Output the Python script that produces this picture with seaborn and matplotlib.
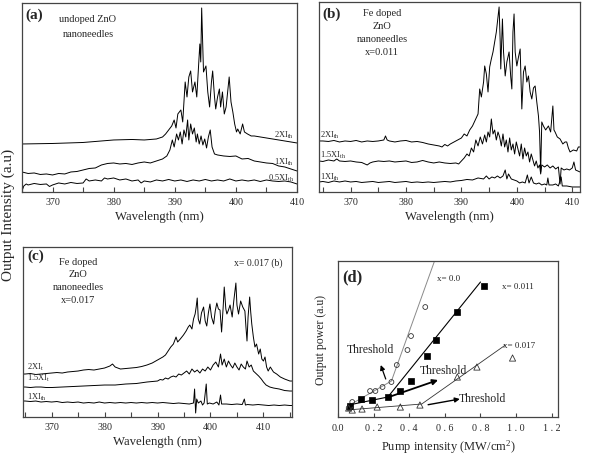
import numpy as np
import pandas as pd
import matplotlib
matplotlib.use("Agg")
import matplotlib.pyplot as plt
from matplotlib.ticker import MultipleLocator
import seaborn as sns

# ---------------- panel (a): undoped ZnO ----------------
a_2x_wl = [365, 370, 375, 380, 383, 385, 387, 388, 388.5, 389, 389.5, 389.9, 390.2, 390.5, 391, 391.3,
           391.7, 392, 392.3, 392.6, 392.9, 393.3, 393.6, 394.1, 394.25, 394.4, 394.7, 395.1, 395.4,
           395.7, 396.0, 396.2, 396.5, 396.7, 397.0, 397.3, 397.5, 397.8, 398.1, 398.4, 398.9, 399.2,
           399.5, 399.8, 400.1, 400.3, 400.7, 401.1, 401.4, 401.9, 402.5, 403, 404, 405, 406, 407, 408,
           409, 410]
a_2x_int = [48, 48.5, 49.5, 52, 52.5, 52, 53, 55, 58, 62, 66, 72, 64, 78, 82, 70,
            110, 95, 115, 121, 100, 110, 95, 148, 130, 184, 120, 126, 100,
            85, 110, 121, 95, 83, 95, 103, 85, 100, 78, 85, 115, 90,
            80, 68, 60, 63, 58, 68, 60, 58, 56, 56, 55, 54, 53, 52, 51,
            50, 49]

a_1x_wl = [365, 366, 367, 368, 369, 370, 371, 372, 373, 374, 375, 376, 377, 378, 379, 380, 381, 382,
           383, 384, 385, 386, 387, 388, 388.7, 389.2, 389.6, 389.9, 390.3, 390.6, 390.9, 391.2,
           391.5, 391.8, 392.1, 392.3, 392.6, 392.9, 393.2, 393.5, 393.7, 394.0, 394.3, 394.6, 394.9,
           395.2, 395.5, 395.8, 396.1, 396.5, 397, 398, 399, 400, 401, 402, 403, 404, 405, 406, 407,
           408, 409, 410]
a_1x_int = [20, 18.5, 19, 17.5, 18, 17, 18.5, 18, 20, 20.5, 22, 23.5, 24, 27, 28.5, 29, 28, 28.5,
            27.5, 29, 30, 29, 31, 33, 36, 42, 52, 45, 58, 52, 60, 48,
            62, 55, 72, 52, 68, 58, 64, 50, 58, 48, 56, 47, 53,
            44, 55, 62, 45, 38, 37, 36, 35.5, 36, 33, 33.5, 31, 30, 29, 28.5, 26,
            25, 23, 21]

a_05x_wl = [365, 365.3, 365.7, 366, 367, 368, 369, 369.5, 370, 371, 372, 373, 374, 375, 375.5, 376,
            377, 378, 378.5, 379, 380, 381, 382, 383, 384, 384.5, 385, 386, 387, 388, 389, 390, 391,
            392, 393, 394, 395, 396, 397, 398, 399, 400, 401, 402, 403, 404, 405, 406, 407, 408, 409,
            410]
a_05x_int = [1, 6, 8, 7, 8.5, 7.5, 8, 5.5, 7, 9, 8, 9.5, 8.5, 9, 13, 11,
             12, 11, 14, 13, 14, 12, 13, 11, 12, 9, 11, 10, 12, 11, 12.5, 11, 12,
             10.5, 12, 11, 12.5, 11, 12, 11, 13, 11, 12, 11, 12, 10.5, 12, 11, 10.5, 11, 10,
             8]

# ---------------- panel (b): Fe doped x=0.011 ----------------
b_2x_wl = [364.3, 365, 366, 367, 368, 369, 370, 371, 372, 373, 374, 375, 376, 376.3, 376.6, 377, 378,
           379, 380, 381, 382, 383, 384, 385, 386, 386.5, 387, 387.5, 388, 389, 390, 390.5, 391, 391.5,
           392, 392.5, 393, 393.3, 393.6, 394, 394.2, 394.5, 394.8, 395.1, 395.4, 395.7, 396.0, 396.3,
           396.6, 396.8, 397.0, 397.1, 397.4, 397.6, 397.9, 398.2, 398.6, 398.9, 399.1, 399.3, 399.5,
           399.7, 400.0, 400.3, 400.6, 400.9, 401.2, 401.5, 401.8, 402.1, 402.4, 402.7, 403.0, 403.3,
           403.6, 403.9, 404.1, 404.3, 404.5, 404.8, 405.2, 405.7, 406.1, 406.5, 406.7, 406.9, 407.3,
           407.8, 408.3, 408.7, 409.0, 409.3, 409.6, 410.2, 410.8, 411.1, 411.4]
b_2x_int = [51, 51, 50.5, 51.5, 50, 51, 50.5, 51.5, 50, 51, 50.5, 51, 52, 56, 52, 51, 50,
            51, 51.5, 50, 50.5, 49.5, 48, 47, 46, 45, 47.5, 46, 48, 51, 54, 58, 56, 62,
            66, 72, 78, 103, 95, 110, 126, 118, 100, 125, 133, 140, 150, 160,
            175, 185, 150, 123, 173, 140, 116, 130, 140, 115, 103, 160, 178,
            140, 126, 135, 143, 83, 120, 126, 110, 116, 100, 93, 104, 106,
            90, 76, 60, 20, 70, 66, 62, 66, 60, 86, 62, 60, 55,
            53, 48, 50, 50, 44, 40, 42, 41, 45, 45]

b_15x_wl = [364.3, 365, 366, 367, 367.5, 368, 369, 370, 371, 372, 373, 373.5, 374, 375, 376, 377, 378,
            379, 380, 381, 382, 383, 384, 385, 386, 387, 388, 389, 389.5, 390, 390.5, 391, 391.4, 391.8,
            392.2, 392.6, 393, 393.4, 393.8, 394.2, 394.5, 394.8, 395.1, 395.4, 395.7, 396, 396.3,
            396.6, 396.9, 397.2, 397.5, 397.8, 398.1, 398.4, 398.7, 399, 399.3, 399.6, 399.9, 400.2,
            400.5, 400.8, 401.1, 401.4, 401.7, 402, 402.3, 402.6, 402.9, 403.2, 403.5, 403.8, 404.1,
            404.3, 404.5, 405, 405.5, 406, 406.5, 407, 407.5, 407.8, 408.0, 408.5, 409, 409.5, 410,
            410.3, 410.6, 411, 411.4]
b_15x_int = [31, 30.5, 32, 31, 33, 31, 30.5, 31, 30, 29.5, 27, 29, 30, 31, 30.5, 31, 30,
             30.5, 31, 29.5, 30, 31.5, 30, 29, 30, 29, 28.5, 29, 28, 31, 34, 38, 36, 44,
             40, 52, 46, 55, 48, 57, 50, 60, 55, 73, 58, 62, 52,
             60, 55, 46, 58, 45, 52, 40, 54, 42, 48, 38, 50, 43,
             36, 48, 33, 44, 36, 40, 30, 38, 32, 26, 31, 24, 27,
             18, 27, 25, 27, 24, 26, 23, 25, 8, 24, 22, 23, 22, 24,
             30, 22, 21, 20]

b_1x_wl = [364.3, 365, 366, 367, 368, 369, 370, 371, 372, 373, 374, 375, 376, 377, 378, 379, 380, 381,
           382, 383, 384, 385, 386, 387, 388, 389, 390, 391, 392, 393, 394, 394.5, 395, 395.5, 396,
           396.5, 397, 397.5, 397.9, 398.2, 398.5, 399, 399.5, 400, 400.5, 401, 401.5, 401.9, 402.2,
           402.6, 403, 403.5, 404, 404.5, 405, 405.4, 405.6, 405.8, 406.5, 407, 407.5, 408, 408.2,
           409, 410, 411, 411.4]
b_1x_int = [10, 10.5, 9.5, 11, 10, 11, 10, 10.5, 9.5, 10, 10.5, 9.5, 10, 10.5, 9.5, 10, 10.5, 9.5,
            10, 9.5, 10, 9.5, 10, 10.5, 10, 11, 11.5, 12.5, 12, 14, 13, 16, 13, 15, 14,
            16, 14, 16, 22, 13, 18, 13, 12, 11, 9, 10, 9, 17, 9,
            15, 9, 8, 9, 7, 8, 7, 14, 7, 7, 8, 6, 15, 6,
            6, 5, 5, 5]

# ---------------- panel (c): Fe doped x=0.017 ----------------
c_2x_wl = [364.6, 365, 366, 367, 368, 369, 370, 371, 372, 373, 374, 375, 376, 377, 378, 379, 380, 381,
           381.5, 382, 383, 384, 385, 386, 387, 388, 389, 390, 391, 391.5, 392, 392.5, 393, 393.5,
           393.8, 394.3, 394.9, 395.4, 395.8, 396.1, 396.5, 396.8, 397.1, 397.3, 397.5, 397.7, 398.0,
           398.3, 398.7, 399.0, 399.3, 399.6, 399.9, 400.2, 400.6, 400.9, 401.2, 401.5, 401.8, 402.1,
           402.4, 402.6, 402.9, 403.1, 403.4, 403.7, 404.1, 404.4, 404.8, 405.0, 405.3, 405.7, 406.1,
           406.5, 406.7, 406.9, 407.1, 407.4, 407.6, 407.8, 408.1, 408.4, 408.7, 409.1, 409.4, 409.7,
           410.0, 410.3, 410.6, 410.9, 411.3, 411.9, 412.5, 413.2, 414, 415, 415.4]
c_2x_int = [43, 43, 43.5, 42.5, 43, 43.5, 44, 44.5, 44, 45, 45.5, 46, 47, 47.5, 47, 48, 49, 51,
            53, 50, 48, 48.5, 49, 49.5, 50.5, 52, 54, 57, 60, 62, 66, 70, 73, 80,
            75, 78, 82, 86, 90, 92, 88, 98, 103, 110, 119, 98, 93,
            104, 110, 96, 91, 104, 113, 100, 93, 106, 114, 108, 107, 85,
            110, 130, 108, 103, 107, 112, 100, 116, 134, 112, 103, 116, 110,
            106, 90, 76, 100, 120, 105, 93, 80, 70, 73, 63, 68, 58,
            56, 60, 50, 46, 50, 45, 43, 40, 38, 36, 36]

c_15x_wl = [364.6, 365, 366, 367, 368, 369, 370, 372, 374, 376, 378, 380, 382, 384, 386, 388, 389,
            390, 390.5, 391, 391.5, 392, 392.5, 393, 393.5, 394, 394.5, 395, 395.5, 396, 396.5, 397,
            397.5, 398, 398.5, 399, 399.5, 400, 400.5, 401, 401.5, 401.9, 402.2, 402.6, 403, 403.4,
            403.8, 404.2, 404.6, 405, 405.4, 405.8, 406.2, 406.6, 406.9, 407.3, 407.7, 408.1, 408.5,
            409.1, 409.6, 410, 410.5, 411.2, 411.9, 413, 414, 415, 415.4]
c_15x_int = [30, 30, 29.5, 30, 30, 29.5, 29.5, 30, 30.5, 31, 31.5, 32, 32, 33, 33.5, 35, 35.5,
             36, 37.5, 37, 39, 38, 40, 41, 40, 43, 42, 44, 46, 43, 48, 45,
             47, 44, 48, 46, 50, 47, 52, 55, 50, 63, 52, 58, 50, 56,
             52, 49, 54, 50, 47, 53, 50, 48, 56, 50, 52, 46, 44,
             41, 38, 35, 32, 30, 29, 28, 26.5, 26, 26]

c_1x_wl = [364.6, 365, 366, 367, 368, 369, 370, 371, 372, 373, 374, 375, 376, 377, 378, 379, 380, 381,
           382, 383, 384, 385, 386, 387, 388, 389, 390, 391, 392, 393, 394, 395, 396, 396.8, 397.0,
           397.2, 397.4, 397.7, 398.2, 398.5, 398.8, 399.2, 399.4, 399.8, 400.5, 401.2, 401.6, 401.9,
           402.1, 403, 404, 405, 406, 406.4, 406.6, 407, 408, 409, 410, 411, 412, 413, 414, 415, 415.4]
c_1x_int = [16, 16, 15.5, 16, 15, 15.5, 15, 15.5, 14.5, 15, 14.5, 15, 14, 14.5, 14, 15, 14, 14.5,
            14, 14.5, 14, 14.5, 14, 14.5, 14, 14.5, 14, 14.5, 14, 13.5, 14, 13.5, 13, 14, 28,
            4, 18, 14, 16, 12, 14, 33, 13, 14, 13, 15, 12, 22,
            13, 13, 12.5, 13, 12.5, 18, 12, 12.5, 12, 12.5, 12, 11.5, 12, 11.5, 12, 11.5, 11.5]

# ---------------- panel (d): output power vs pump intensity ----------------
d_x00_pump = [0.06, 0.08, 0.18, 0.21, 0.25, 0.30, 0.33, 0.39, 0.41, 0.49]
d_x00_pow = [9, 15, 26, 26, 30, 35, 52, 67, 81, 110]
d_x00_fit_pump = [0.055, 0.30, 0.54]
d_x00_fit_pow = [11, 36, 155]

d_x011_pump = [0.066, 0.13, 0.19, 0.28, 0.35, 0.41, 0.50, 0.55, 0.67, 0.82]
d_x011_pow = [11, 18, 17, 20, 26, 36, 61, 77, 105, 131]
d_x011_fit_pump = [0.06, 0.28, 0.80]
d_x011_fit_pow = [12, 20, 135]

d_x017_pump = [0.06, 0.08, 0.135, 0.22, 0.35, 0.46, 0.67, 0.78, 0.98]
d_x017_pow = [9, 7, 8, 10, 10, 12, 40, 50, 59]
d_x017_fit_pump = [0.05, 0.47, 0.94]
d_x017_fit_pow = [7, 13, 72]

d_ticks = [0.0, 0.2, 0.4, 0.6, 0.8, 1.0, 1.2]
d_ticklabels = ["0.0", "0 . 2", "0 . 4", "0 . 6", "0 . 8", "1 . 0", "1 . 2"]

sns.set_style("white")
plt.rcParams["font.family"] = ["Liberation Serif", "DejaVu Serif"]
plt.rcParams["mathtext.fontset"] = "custom"
plt.rcParams["mathtext.rm"] = "Liberation Serif"
plt.rcParams["mathtext.it"] = "Liberation Serif:italic"

frame = "#444444"

fig = plt.figure(figsize=(6.09, 4.56), dpi=100)
ax_a = fig.add_axes([0.0361, 0.5768, 0.4516, 0.4145])
ax_b = fig.add_axes([0.5238, 0.5768, 0.4286, 0.4167])
ax_c = fig.add_axes([0.0378, 0.0833, 0.4417, 0.3728])
ax_d = fig.add_axes([0.5550, 0.0833, 0.3612, 0.3421])


def spectrum(ax, wl, inten):
    df = pd.DataFrame({"wl": wl, "I": inten})
    sns.lineplot(data=df, x="wl", y="I", ax=ax, color="black", lw=0.7,
                 estimator=None, sort=False)


def style_frame(ax):
    for s in ax.spines.values():
        s.set_visible(True)
        s.set_color(frame)
        s.set_linewidth(0.9)
    ax.set_yticks([])
    ax.set_ylabel("")


def style_spec(ax, xlim, ylim):
    ax.set_xlim(*xlim)
    ax.set_ylim(*ylim)
    style_frame(ax)
    ax.xaxis.set_major_locator(MultipleLocator(10))
    ax.xaxis.set_minor_locator(MultipleLocator(5))
    ax.tick_params(axis="x", which="both", direction="in", length=3.5, width=0.8,
                   color=frame, labelsize=7.2, pad=3.5, bottom=True)
    ax.set_xlabel("Wavelength (nm)", fontsize=9.2, labelpad=3)


lab = dict(fontsize=6, ha="left", va="center")
txt = dict(fontsize=7.5, ha="center", va="center")

# (a)
spectrum(ax_a, a_2x_wl, a_2x_int)
spectrum(ax_a, a_1x_wl, a_1x_int)
spectrum(ax_a, a_05x_wl, a_05x_int)
style_spec(ax_a, (365, 410), (0, 189))
ax_a.text(406.2, 58, r"2XI$_{\rm th}$", **lab)
ax_a.text(406.2, 31, r"1XI$_{\rm th}$", **lab)
ax_a.text(405.2, 15, r"0.5XI$_{\rm th}$", **lab)
ax_a.text(0.012, 0.942, "(a)", transform=ax_a.transAxes, fontsize=11, fontweight="bold",
          ha="left", va="center")
for t, yy in zip(["undoped ZnO", "nanoneedles"], [0.92, 0.84]):
    ax_a.text(0.24, yy, t, transform=ax_a.transAxes, **txt)

# (b)
spectrum(ax_b, b_2x_wl, b_2x_int)
spectrum(ax_b, b_15x_wl, b_15x_int)
spectrum(ax_b, b_1x_wl, b_1x_int)
style_spec(ax_b, (364.3, 411.4), (0, 190))
ax_b.text(364.5, 58, r"2XI$_{\rm th}$", **lab)
ax_b.text(364.5, 38, r"1.5XI$_{\rm th}$", **lab)
ax_b.text(364.5, 16, r"1XI$_{\rm th}$", **lab)
ax_b.text(0.012, 0.942, "(b)", transform=ax_b.transAxes, fontsize=11, fontweight="bold",
          ha="left", va="center")
for t, yy in zip(["Fe doped", "ZnO", "nanoneedles", "x=0.011"], [14, 27, 40, 53]):
    ax_b.text(0.241, (193 - yy) / 190, t, transform=ax_b.transAxes, **txt)

# (c)
spectrum(ax_c, c_2x_wl, c_2x_int)
spectrum(ax_c, c_15x_wl, c_15x_int)
spectrum(ax_c, c_1x_wl, c_1x_int)
style_spec(ax_c, (364.6, 415.4), (0, 170))
ax_c.text(365.3, 51, r"2XI$_{\rm t}$", **lab)
ax_c.text(365.3, 40, r"1.5XI$_{\rm t}$", **lab)
ax_c.text(365.3, 21, r"1XI$_{\rm th}$", **lab)
ax_c.text(0.015, 0.95, "(c)", transform=ax_c.transAxes, fontsize=11, fontweight="bold",
          ha="left", va="center")
for t, yy in zip(["Fe doped", "ZnO", "nanoneedles", "x=0.017"], [262, 274, 287, 300]):
    ax_c.text(0.205, (418 - yy) / 170, t, transform=ax_c.transAxes, **txt)
ax_c.text(0.963, (418 - 263) / 170, "x= 0.017 (b)", transform=ax_c.transAxes,
          fontsize=7, ha="right", va="center")

# (d)
sns.lineplot(x=d_x00_fit_pump, y=d_x00_fit_pow, ax=ax_d, color="#8a8a8a", lw=0.7,
             estimator=None, sort=False)
sns.lineplot(x=d_x011_fit_pump, y=d_x011_fit_pow, ax=ax_d, color="black", lw=0.8,
             estimator=None, sort=False)
sns.lineplot(x=d_x017_fit_pump, y=d_x017_fit_pow, ax=ax_d, color="#333333", lw=0.6,
             estimator=None, sort=False)
sns.scatterplot(x=d_x00_pump, y=d_x00_pow, ax=ax_d, marker="o", s=12,
                facecolor="none", edgecolor="#333333", linewidth=0.6, zorder=3)
sns.scatterplot(x=d_x011_pump, y=d_x011_pow, ax=ax_d, marker="s", s=15,
                color="black", edgecolor="black", linewidth=0.5, zorder=3)
sns.scatterplot(x=d_x017_pump, y=d_x017_pow, ax=ax_d, marker="^", s=20,
                facecolor="none", edgecolor="#333333", linewidth=0.6, zorder=3)
ax_d.set_xlim(0, 1.235)
ax_d.set_ylim(0, 156)
style_frame(ax_d)
ax_d.set_xticks(d_ticks)
ax_d.set_xticklabels(d_ticklabels)
ax_d.tick_params(axis="x", direction="in", length=3, width=0.8, color=frame,
                 labelsize=7.2, pad=4, bottom=True)
ax_d.set_xlabel(r"Pump intensity (MW/cm$^{2}$)", fontsize=9, labelpad=4)
ax_d.set_ylabel("Output power (a.u)", fontsize=8.5, labelpad=8)
ax_d.text(0.02, 0.9, "(d)", transform=ax_d.transAxes, fontsize=12, fontweight="bold",
          ha="left", va="center")
ax_d.text(0.555, 139, "x= 0.0", fontsize=6.5, ha="left", va="center")
ax_d.text(0.92, 131, "x= 0.011", fontsize=6.5, ha="left", va="center")
ax_d.text(0.926, 72, "x= 0.017", fontsize=6.5, ha="left", va="center")
ax_d.text(0.049, 68, "Threshold", fontsize=8.5, ha="left", va="center")
ax_d.text(0.46, 47, "Threshold", fontsize=8.5, ha="left", va="center")
ax_d.text(0.679, 19, "Threshold", fontsize=8.5, ha="left", va="center")
ax_d.annotate("", xy=(0.240, 52), xytext=(0.268, 38),
              arrowprops=dict(arrowstyle="-|>", color="black", lw=0.9, mutation_scale=7,
                              shrinkA=0, shrinkB=0))
ax_d.annotate("", xy=(0.562, 37), xytext=(0.281, 19.7),
              arrowprops=dict(arrowstyle="-|>", color="black", lw=1.3, mutation_scale=8,
                              shrinkA=0, shrinkB=0))
ax_d.annotate("", xy=(0.684, 18), xytext=(0.506, 12.3),
              arrowprops=dict(arrowstyle="-|>", color="black", lw=1.0, mutation_scale=7,
                              shrinkA=0, shrinkB=0))

fig.text(8 / 609, 1 - 215 / 456, "Output Intensity (a.u)", rotation=90, fontsize=11,
         ha="center", va="center")

fig.savefig("out.png", dpi=100)
